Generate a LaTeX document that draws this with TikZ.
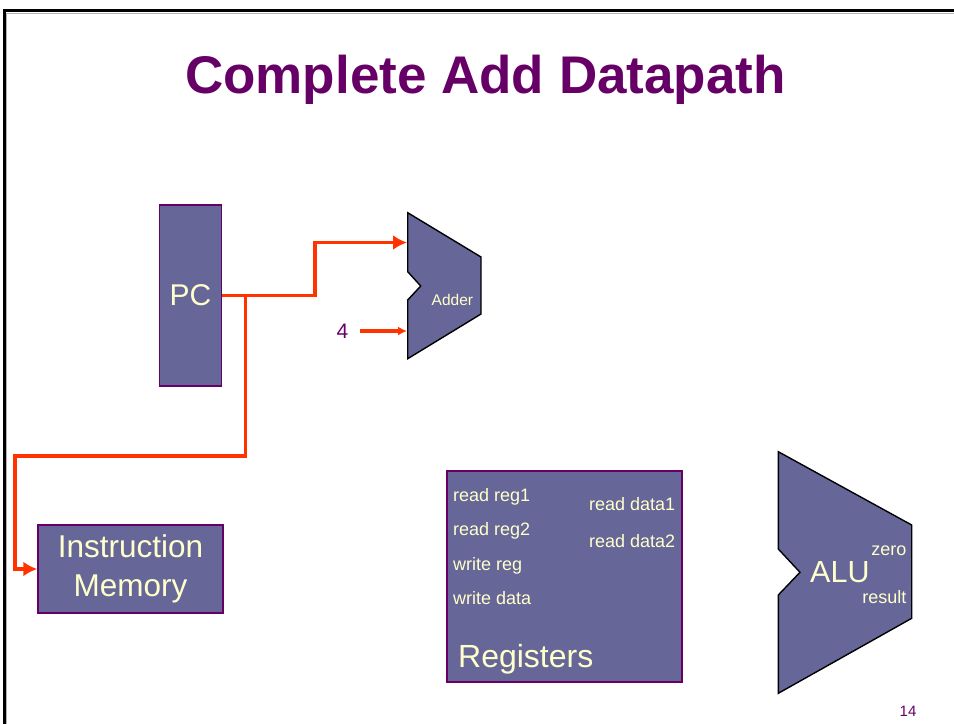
\documentclass[tikz,border=0pt]{standalone}
\usepackage{fontspec}
\setmainfont{Liberation Sans}
\usetikzlibrary{arrows.meta}

\definecolor{unitfill}{HTML}{666699}
\definecolor{unitedge}{HTML}{660066}
\definecolor{labeltext}{HTML}{FFFFCC}
\definecolor{wirered}{HTML}{FF3300}
\definecolor{titlepurple}{HTML}{660066}

\newcommand{\fsz}[1]{\fontsize{#1}{#1}\selectfont}

\tikzset{
  unitbox/.style={draw=unitedge, line width=1.5pt, fill=unitfill,
    text=labeltext, inner sep=0pt, align=center},
  muxshape/.style={draw=black, line width=1.4pt, fill=unitfill, line join=miter},
  wire/.style={draw=wirered, line width=3.4pt,
    -{Latex[length=14pt,width=15pt]}},
  shortwire/.style={draw=wirered, line width=3.4pt,
    -{Latex[length=9pt,width=9pt]}},
  portlabel/.style={text=labeltext, inner sep=0pt, font=\fsz{18}},
}

\begin{document}
\begin{tikzpicture}[x=1pt, y=-1pt]
  \useasboundingbox (0,0) rectangle (954,724);

  % slide frame (top and left edges)
  \draw[gray!60, line width=1pt] (6.5,724) -- (6.5,13.5) -- (954,13.5);
  \draw[black, line width=3pt] (4,724) -- (4,10.5) -- (954,10.5);

  % title
  \node[anchor=base, text=titlepurple, inner sep=0pt,
        font=\fsz{53}\bfseries] (title) at (485.5,93) {Complete Add Datapath};

  % program counter
  \node[unitbox, minimum width=62pt, minimum height=181pt, font=\fsz{30}]
    (pc) at (190.5,295.5) {PC};

  % instruction memory
  \node[unitbox, minimum width=185pt, minimum height=88pt,
        font=\fsz{31.5}, align=center]
    (im) at (130.5,569) {\fsz{31.5}Instruction\\[7pt]Memory};

  % adder outline with input notch
  \draw[muxshape] (407.7,212.7) -- (481,257) -- (481,314) -- (407.7,358.7)
    -- (407.7,300) -- (420.7,286) -- (407.7,271.7) -- cycle;
  \node[portlabel, anchor=base west, font=\fsz{15.5}] (addlbl) at (431.5,305.5) {Adder};
  \coordinate (addA) at (407,242.5);
  \coordinate (addB) at (407,331);

  % constant input
  \node[text=titlepurple, inner sep=0pt, font=\fsz{21}] (four) at (342.5,331) {4};
  \coordinate (fourout) at (360,331);

  % register file
  \node[unitbox, minimum width=235pt, minimum height=211pt]
    (regs) at (564.5,576.5) {};
  \node[portlabel, anchor=base west] (rr1) at (453,501) {read reg1};
  \node[portlabel, anchor=base west] (rr2) at (453,535) {read reg2};
  \node[portlabel, anchor=base west] (wr)  at (453,570) {write reg};
  \node[portlabel, anchor=base west] (wd)  at (453,604) {write data};
  \node[portlabel, anchor=base west] (rd1) at (589,510) {read data1};
  \node[portlabel, anchor=base west] (rd2) at (589,547) {read data2};
  \node[portlabel, anchor=base west, font=\fsz{32}] (regname) at (458,667) {Registers};

  % ALU outline with input notch
  \draw[muxshape] (778.3,451.7) -- (911.7,525) -- (911.7,618.3) -- (778.3,693.3)
    -- (778.3,595) -- (800,572.3) -- (778.3,549) -- cycle;
  \node[portlabel, anchor=base west, font=\fsz{30.5}] (alulbl) at (810,582.5) {ALU};
  \node[portlabel, anchor=base east] (zero) at (906.5,555) {zero};
  \node[portlabel, anchor=base east] (result) at (906.5,603.5) {result};

  % slide number
  \node[text=titlepurple, anchor=base, inner sep=0pt, font=\fsz{15}] (pagenum) at (908,716.5) {14};

  % wiring
  \coordinate (split) at (245.5,295.5);
  \draw[wire] (pc.east) -- (315,295.5) |- (addA);
  \draw[wire] (split) -- (245.5,456) -- (15,456) |- (im.west);
  \draw[shortwire] (fourout) -- (addB);
\end{tikzpicture}
\end{document}
